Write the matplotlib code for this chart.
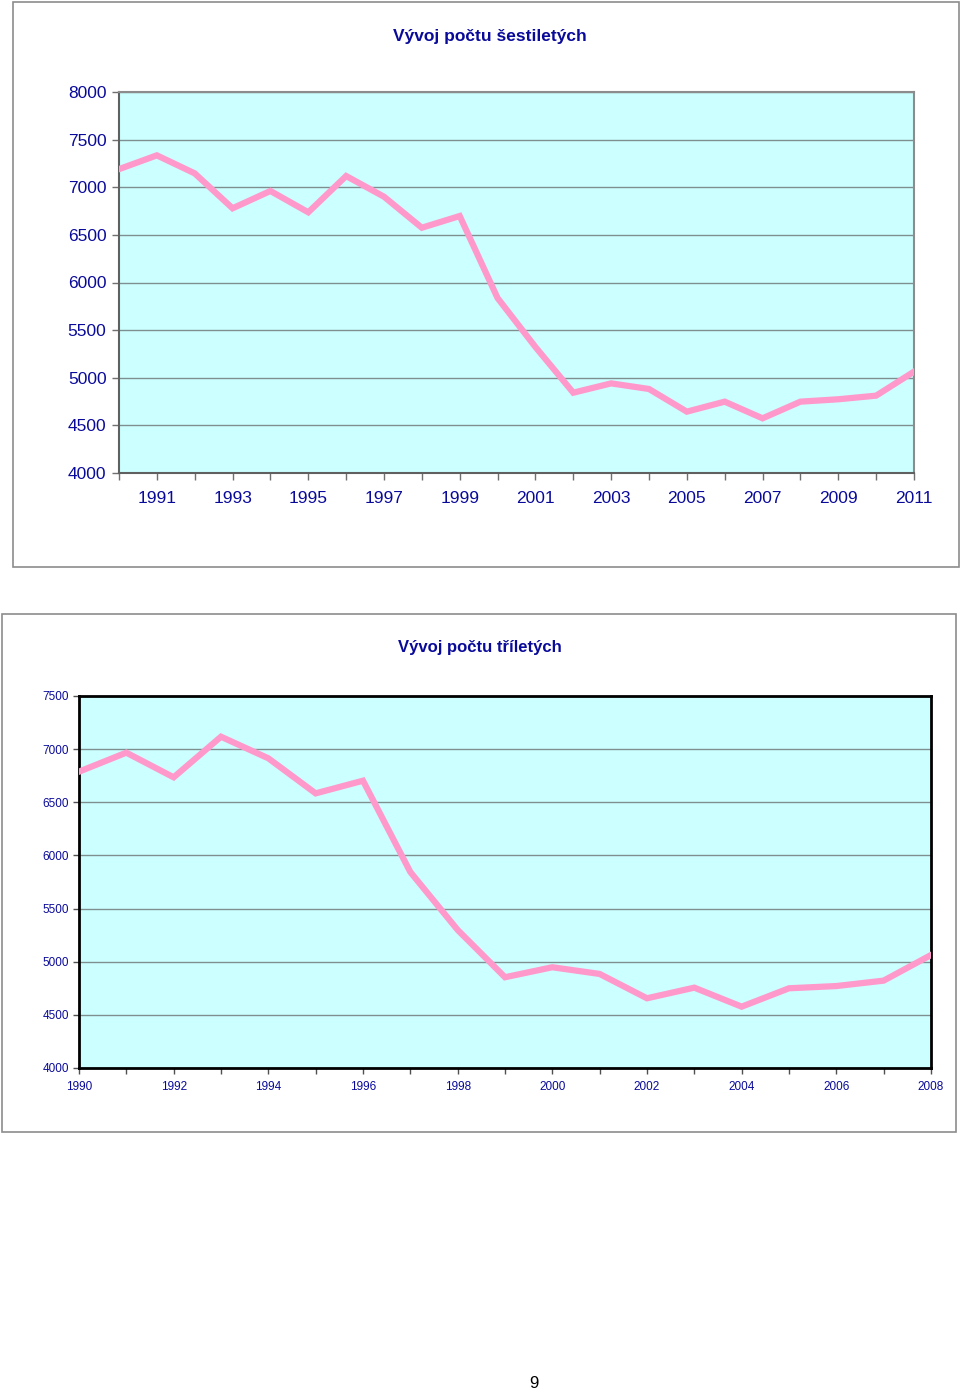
import matplotlib
matplotlib.use("Agg")
import matplotlib.pyplot as plt
from matplotlib.patches import Rectangle

plt.rcParams['font.family'] = ['Liberation Sans', 'DejaVu Sans']

# six-year-olds, 1990-2011
years_6 = list(range(1990, 2012))
count_6 = [7190, 7335, 7146, 6779, 6961, 6737, 7118, 6901, 6575, 6698,
           5837, 5323, 4843, 4941, 4882, 4644, 4749, 4574, 4749, 4774,
           4812, 5064]

# three-year-olds, 1990-2008
years_3 = list(range(1990, 2009))
count_3 = [6788, 6967, 6735, 7117, 6914, 6584, 6703, 5844, 5299, 4854,
           4948, 4885, 4656, 4756, 4577, 4750, 4771, 4822, 5063]

title_6 = "Vývoj počtu šestiletých"
title_3 = "Vývoj počtu tříletých"

W, H = 960, 1392
txt = '#0a0a9a'
pink = '#ff99cc'
bg = '#ccffff'
grid = '#7f8f8f'

fig = plt.figure(figsize=(W / 100, H / 100), dpi=100)


def fx(x):
    return x / W


def fy(y):
    return 1 - y / H


# frames around both charts
fig.add_artist(Rectangle((fx(13), fy(567)), fx(946), 565 / H, transform=fig.transFigure,
                         fill=False, edgecolor='#8c8c8c', lw=1.2))
fig.add_artist(Rectangle((fx(2), fy(1132)), fx(954), 518 / H, transform=fig.transFigure,
                         fill=False, edgecolor='#8c8c8c', lw=1.2))

# top chart
ax1 = fig.add_axes([fx(119), fy(473), fx(795), 381 / H])
ax1.set_facecolor(bg)
ax1.plot(years_6, count_6, color=pink, lw=4.5, solid_joinstyle='miter', zorder=3)
ax1.set_xlim(1990, 2011)
ax1.set_ylim(4000, 8000)
ax1.set_yticks(range(4000, 8001, 500))
ax1.set_xticks(years_6)
ax1.set_xticklabels([str(y) if y % 2 == 1 else '' for y in years_6])
ax1.yaxis.grid(True, color=grid, lw=1)
ax1.tick_params(axis='both', direction='out', length=5, width=1, color='#707070',
                labelsize=12.5, labelcolor=txt, pad=4)
ax1.tick_params(axis='x', pad=8)
for s in ['top', 'right']:
    ax1.spines[s].set_color('#8c8c8c')
    ax1.spines[s].set_linewidth(1.5)
for s in ['left', 'bottom']:
    ax1.spines[s].set_color('#606060')
    ax1.spines[s].set_linewidth(1.5)
fig.text(fx(490), fy(37), title_6, ha='center', va='center', fontsize=12.5,
         fontweight='bold', color=txt)

# bottom chart
ax2 = fig.add_axes([fx(79), fy(1068), fx(852), 372 / H])
ax2.set_facecolor(bg)
ax2.plot(years_3, count_3, color=pink, lw=4.5, solid_joinstyle='miter', zorder=3)
ax2.set_xlim(1990, 2008)
ax2.set_ylim(4000, 7500)
ax2.set_yticks(range(4000, 7501, 500))
ax2.set_xticks(years_3)
ax2.set_xticklabels([str(y) if y % 2 == 0 else '' for y in years_3])
ax2.yaxis.grid(True, color=grid, lw=1)
ax2.tick_params(axis='both', direction='out', length=4, width=1, color='#505050',
                labelsize=8.5, labelcolor=txt, pad=3)
ax2.tick_params(axis='x', pad=5)
for s in ax2.spines.values():
    s.set_color('black')
    s.set_linewidth(2)
fig.text(fx(480), fy(647), title_3, ha='center', va='center', fontsize=12,
         fontweight='bold', color=txt)

# page number
fig.text(fx(534), fy(1383), "9", ha='center', va='center', fontsize=12, color='black')

fig.savefig("out.png", dpi=100)
